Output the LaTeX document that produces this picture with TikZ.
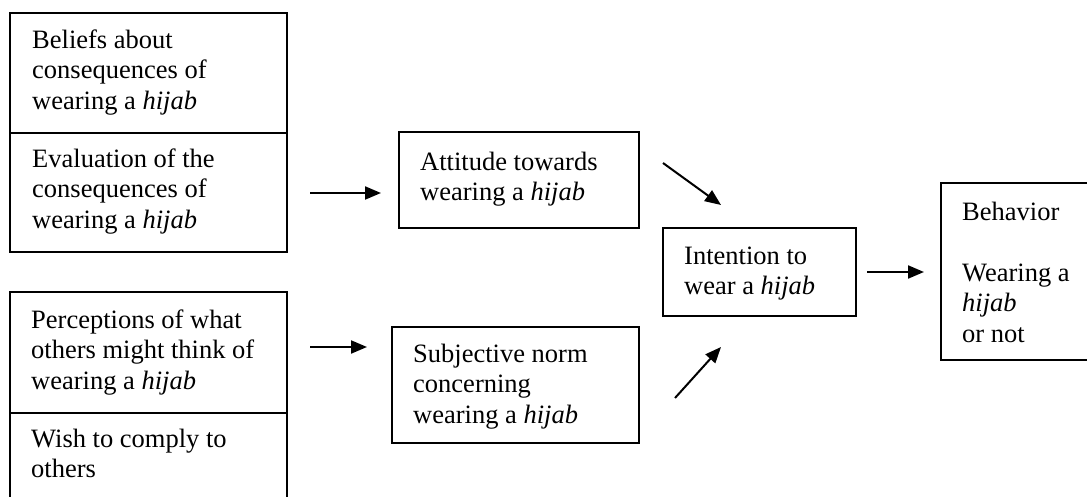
\documentclass[tikz,border=0pt]{standalone}
\usepackage{fontspec}
\setmainfont{Liberation Serif}
\usetikzlibrary{arrows.meta}
\newcommand{\fstr}{\rule{0pt}{20pt}}
\tikzset{
  box/.style={draw, line width=1.9pt, inner sep=0pt},
  txt/.style={anchor=north west, inner sep=0pt, align=left, font=\fontsize{26.5}{30.5}\selectfont},
  arr/.style={line width=2pt, -{Triangle[length=16pt,width=13pt]}}
}
\begin{document}
\begin{tikzpicture}[x=1pt,y=-1pt]
\useasboundingbox (0,0) rectangle (1087,497);
\clip (0,0) rectangle (1087,497);
\fill[white] (0,0) rectangle (1087,497);
% boxes
\node[box, minimum width=277pt, minimum height=120pt] (Bel) at (148.5,73) {};
\node[box, minimum width=277pt, minimum height=119pt] (Eval) at (148.5,192.5) {};
\node[box, minimum width=277pt, minimum height=121pt] (Perc) at (148.5,352.5) {};
\node[box, minimum width=277pt, minimum height=107pt] (Wish) at (148.5,466.5) {};
\node[box, minimum width=240pt, minimum height=96pt] (Att) at (519,180) {};
\node[box, minimum width=247pt, minimum height=116pt] (Subj) at (515.5,385) {};
\node[box, minimum width=193pt, minimum height=88pt] (Int) at (759.5,272) {};
\node[box, minimum width=180pt, minimum height=177pt] (Beh) at (1031,271.5) {};
% texts
\node[txt] (BelT) at (32,28) {\fstr Beliefs about\\consequences of\\wearing a \textit{hijab}};
\node[txt] (EvalT) at (32,147) {\fstr Evaluation of the\\consequences of\\wearing a \textit{hijab}};
\node[txt] (PercT) at (31,308) {\fstr Perceptions of what\\others might think of\\wearing a \textit{hijab}};
\node[txt] (WishT) at (31,427) {\fstr Wish to comply to\\others};
\node[txt] (AttT) at (420,150) {\fstr Attitude towards\\wearing a \textit{hijab}};
\node[txt] (SubjT) at (413,342) {\fstr Subjective norm\\concerning\\wearing a \textit{hijab}};
\node[txt] (IntT) at (684,244) {\fstr Intention to\\wear a \textit{hijab}};
\node[txt] (BehT) at (962,200) {\fstr Behavior\\[30.5pt]Wearing a\\\textit{hijab}\\or not};
% arrow ends
\coordinate (a1s) at (310,193); \coordinate (a1e) at (381,193);
\coordinate (a2s) at (310,347); \coordinate (a2e) at (367,347);
\coordinate (a3s) at (663,163); \coordinate (a3e) at (721,205);
\coordinate (a4s) at (675,398); \coordinate (a4e) at (721,347);
\coordinate (a5s) at (867,272); \coordinate (a5e) at (924,272);
\draw[arr] (a1s) -- (a1e);
\draw[arr] (a2s) -- (a2e);
\draw[arr] (a3s) -- (a3e);
\draw[arr] (a4s) -- (a4e);
\draw[arr] (a5s) -- (a5e);
\end{tikzpicture}
\end{document}
